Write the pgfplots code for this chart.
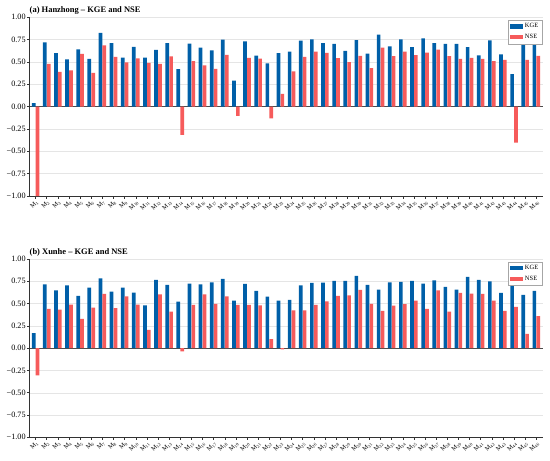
\documentclass[border=0pt]{standalone}
\usepackage{pgfplots}
\pgfplotsset{compat=1.18}
\usepackage{pgfplotstable}
\usepackage{fontspec}
\setmainfont{Liberation Serif}
\definecolor{kge}{HTML}{005FA8}
\definecolor{nse}{HTML}{F65B5B}

\pgfplotstableread{
m kgea nsea kgeb nseb
1 0.040 -1.000 0.168 -0.306
2 0.720 0.478 0.716 0.440
3 0.600 0.388 0.649 0.433
4 0.530 0.405 0.705 0.489
5 0.640 0.592 0.586 0.328
6 0.535 0.377 0.679 0.455
7 0.825 0.687 0.784 0.608
8 0.710 0.556 0.634 0.448
9 0.550 0.496 0.679 0.582
10 0.670 0.541 0.623 0.489
11 0.550 0.489 0.481 0.205
12 0.635 0.478 0.765 0.604
13 0.710 0.563 0.709 0.410
14 0.420 -0.317 0.522 -0.037
15 0.705 0.510 0.724 0.485
16 0.660 0.462 0.716 0.604
17 0.630 0.422 0.739 0.496
18 0.750 0.580 0.776 0.582
19 0.290 -0.103 0.534 0.485
20 0.730 0.545 0.720 0.485
21 0.570 0.537 0.642 0.481
22 0.485 -0.132 0.578 0.100
23 0.598 0.142 0.534 -0.015
24 0.615 0.395 0.541 0.425
25 0.740 0.558 0.705 0.425
26 0.752 0.615 0.731 0.485
27 0.710 0.602 0.735 0.526
28 0.703 0.542 0.754 0.586
29 0.625 0.497 0.754 0.593
30 0.745 0.569 0.810 0.653
31 0.594 0.431 0.709 0.496
32 0.805 0.660 0.657 0.418
33 0.675 0.565 0.739 0.478
34 0.753 0.616 0.743 0.493
35 0.667 0.578 0.754 0.534
36 0.765 0.605 0.724 0.440
37 0.711 0.637 0.761 0.649
38 0.703 0.566 0.687 0.410
39 0.703 0.534 0.657 0.619
40 0.667 0.545 0.799 0.612
41 0.574 0.536 0.765 0.608
42 0.743 0.510 0.750 0.534
43 0.585 0.523 0.619 0.418
44 0.364 -0.403 0.705 0.463
45 0.750 0.523 0.597 0.160
46 0.738 0.567 0.642 0.358
}\data

\tikzset{ttl/.style={anchor=south west, inner sep=0pt, font=\bfseries\fontsize{8.5}{10}\selectfont}}

\pgfplotsset{
  panel/.style={
    width=513.5bp, height=178.7bp, scale only axis, anchor=south west,
    xmin=0.45, xmax=46.6, ymin=-1, ymax=1,
    axis x line*=bottom, axis y line*=left,
    axis line style={black!80, line width=0.6pt},
    tick align=outside, major tick length=2.5bp,
    tick style={black!80, line width=0.5pt},
    xtick={1,...,46},
    xticklabel={M\textsubscript{\pgfmathprintnumber[assume math mode=true]{\tick}}},
    x tick label style={rotate=45, anchor=north east, font=\fontsize{6.3}{7}\selectfont, inner sep=0.8pt},
    ytick={-1,-0.75,-0.5,-0.25,0,0.25,0.5,0.75,1},
    yticklabels={−1.00,−0.75,−0.50,−0.25,0.00,0.25,0.50,0.75,1.00},
    y tick label style={font=\fontsize{8.2}{9}\selectfont, inner sep=1.2pt},
    ymajorgrids, major grid style={black!10, line width=0.4pt},
    extra y ticks={0}, extra y tick labels={},
    extra y tick style={grid=major, major grid style={black!70, line width=0.7pt}, tick style={draw=none}},
    legend style={at={(0.998,0.985)}, anchor=north east, draw=black!35, line width=0.4pt,
      font=\fontsize{6.5}{7.5}\selectfont, inner sep=1.5pt, row sep=1pt, fill=white},
    legend cell align=left,
    legend image code/.code={\fill[##1] (0bp,-2bp) rectangle (13bp,2.2bp);},
    clip=false,
  },
  kgebar/.style={ybar, bar width=0.33, bar shift=-0.175, fill=kge, draw=none},
  nsebar/.style={ybar, bar width=0.33, bar shift=0.175, fill=nse, draw=none},
}

\begin{document}
\begin{tikzpicture}
\begin{axis}[panel, at={(29.5bp,-196bp)}]
\addplot[kgebar] table[x=m,y=kgea]{\data};
\addplot[nsebar] table[x=m,y=nsea]{\data};
\legend{KGE,NSE}
\node[ttl] at ([yshift=3bp]rel axis cs:0,1) {(a) Hanzhong – KGE and NSE};
\end{axis}
\begin{axis}[panel, at={(29.5bp,-437.3bp)}, height=178.3bp]
\addplot[kgebar] table[x=m,y=kgeb]{\data};
\addplot[nsebar] table[x=m,y=nseb]{\data};
\legend{KGE,NSE}
\node[ttl] at ([yshift=3bp]rel axis cs:0,1) {(b) Xunhe – KGE and NSE};
\end{axis}
\pgfresetboundingbox
\path (0,0) rectangle (550bp,-461bp);
\end{tikzpicture}
\end{document}
